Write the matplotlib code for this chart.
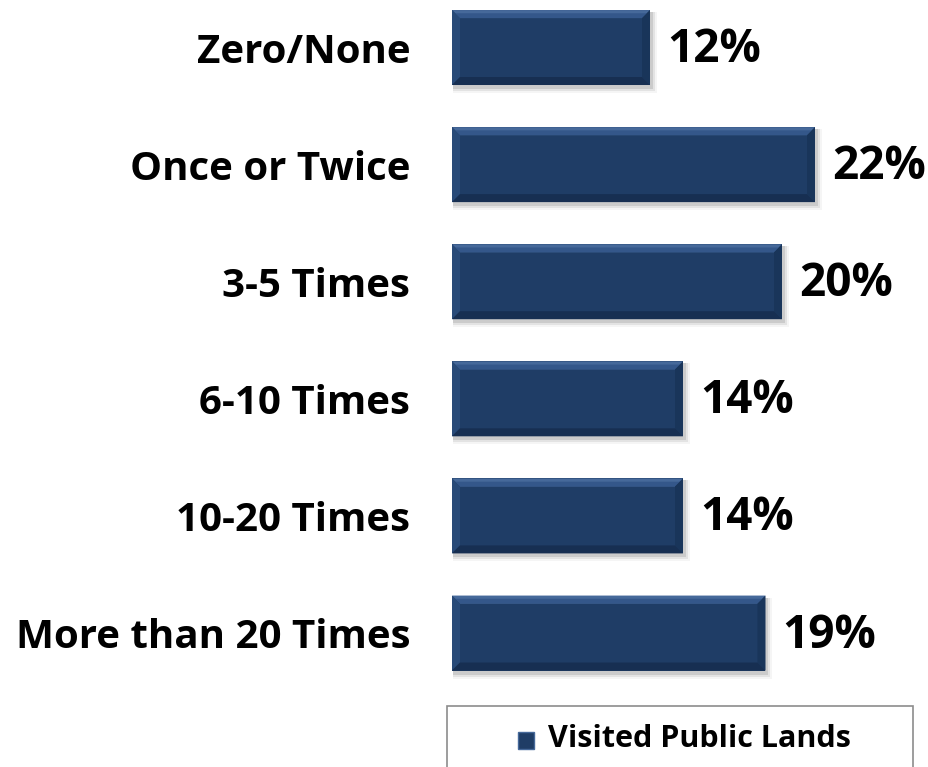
import numpy as np
import matplotlib.pyplot as plt
from matplotlib.patches import Rectangle, Polygon

# ── data ──────────────────────────────────────────────────────────────────────
categories = ["Zero/None", "Once or Twice", "3-5 Times",
              "6-10 Times", "10-20 Times", "More than 20 Times"]
values = [12, 22, 20, 14, 14, 19]
series_name = "Visited Public Lands"

W, H, DPI = 929, 767, 100
plt.rcParams["font.family"] = ["Open Sans", "DejaVu Sans"]

fig = plt.figure(figsize=(W / DPI, H / DPI), dpi=DPI)
ax = fig.add_axes([452 / W, 0, 1 - 452 / W, 1])

xmax = (W - 452) / 16.5
y = np.arange(len(categories))
ax.set_xlim(0, xmax)
ax.set_ylim(6.144, -0.406)

BAR_C = "#1F3D66"
bars = ax.barh(y, values, height=0.64, color=BAR_C, zorder=3)

# px -> data units
px_x = xmax / (W - 452)
px_y = 6.55 / H

for b in bars:
    x0, y0 = b.get_x(), b.get_y()
    w, h = b.get_width(), b.get_height()
    x1, y1 = x0 + w, y0 + h          # y1 is lower on screen (inverted)
    # soft shadow
    for k, a in [(6, 0.04), (4, 0.07), (2, 0.10)]:
        ax.add_patch(Rectangle((x0 + 1 * px_x, y0 + 2 * px_y), w + k * px_x, h + k * px_y,
                               color="black", alpha=a, lw=0, zorder=2))
    bx, by = 8 * px_x, 8 * px_y
    # top bevel (light)
    ax.add_patch(Polygon([(x0, y0), (x1, y0), (x1 - bx, y0 + by), (x0 + bx, y0 + by)],
                         color="#46699A", lw=0, zorder=4))
    ax.add_patch(Polygon([(x0 + bx * 0.4, y0 + by * 0.4), (x1 - bx * 0.4, y0 + by * 0.4),
                          (x1 - bx, y0 + by), (x0 + bx, y0 + by)],
                         color="#34578A", lw=0, zorder=4))
    # left bevel
    ax.add_patch(Polygon([(x0, y0), (x0 + bx, y0 + by), (x0 + bx, y1 - by), (x0, y1)],
                         color="#284A78", lw=0, zorder=4))
    # right bevel (dark)
    ax.add_patch(Polygon([(x1, y0), (x1, y1), (x1 - bx, y1 - by), (x1 - bx, y0 + by)],
                         color="#19355A", lw=0, zorder=4))
    # bottom bevel (dark)
    ax.add_patch(Polygon([(x0, y1), (x1, y1), (x1 - bx, y1 - by), (x0 + bx, y1 - by)],
                         color="#172F52", lw=0, zorder=4))
    ax.text(x1 + 17 * px_x, y0 + h / 2 + 2 * px_y, f"{w:.0f}%", fontsize=33,
            fontweight="bold", va="center", ha="left", color="black", zorder=5)

ax.set_yticks(y)
ax.set_yticklabels(categories, fontsize=29, fontweight="bold")
ax.tick_params(axis="y", length=0, pad=30)
ax.set_xticks([])
for s in ax.spines.values():
    s.set_visible(False)

# legend box (cut off at the bottom, as in the original)
fig.patches.append(Rectangle((447 / W, -0.05), (913 - 447) / W, (767 - 706) / H + 0.05,
                             transform=fig.transFigure, facecolor="white",
                             edgecolor="#8C8C8C", lw=1.2))
fig.patches.append(Rectangle((518 / W, (767 - 749) / H), 16 / W, 17 / H,
                             transform=fig.transFigure, facecolor=BAR_C,
                             edgecolor="#46699A", lw=1))
fig.text(548 / W, (767 - 739) / H, series_name, fontsize=22, fontweight="bold",
         va="center", ha="left")

fig.savefig("out.png", dpi=DPI)
